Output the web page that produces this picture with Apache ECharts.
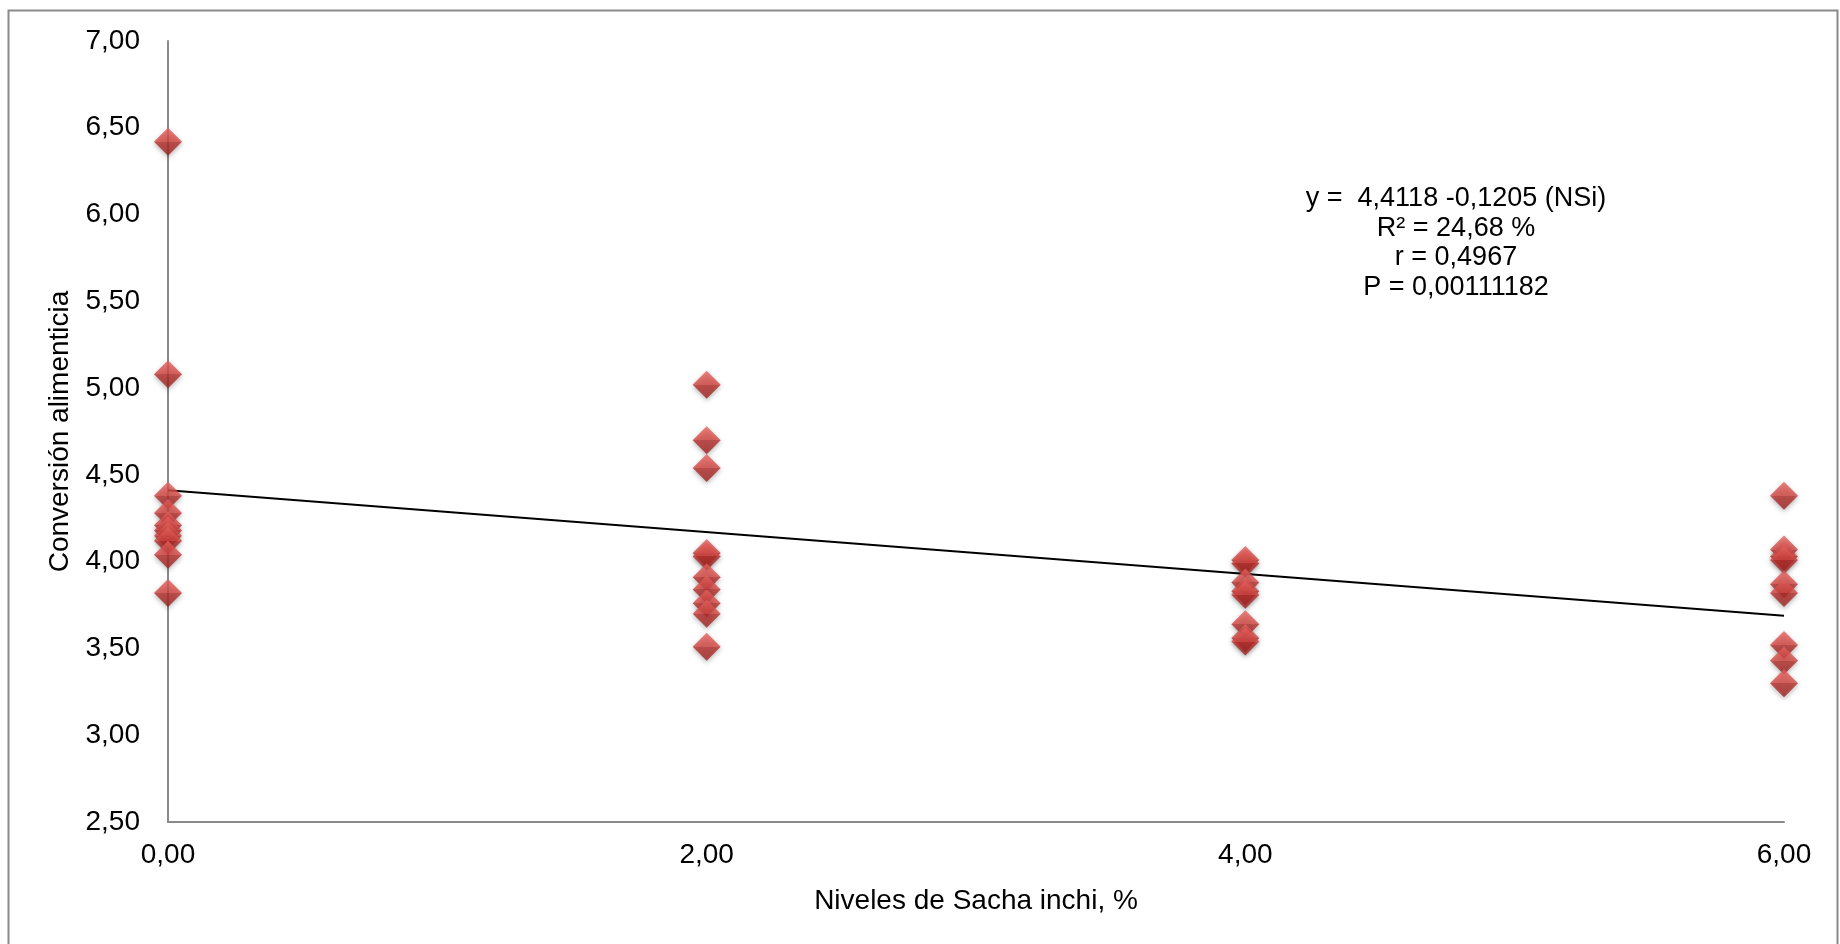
<!DOCTYPE html>
<html>
<head>
<meta charset="utf-8">
<script src="https://cdn.jsdelivr.net/npm/echarts@6/dist/echarts.min.js"></script>
<style>
  html, body { margin: 0; padding: 0; background: #fff; }
  #chart { width: 1840px; height: 944px; }
</style>
</head>
<body>
<div id="chart"></div>
<script>
// niveles de Sacha inchi (%) y conversion alimenticia observada
var niveles = [0, 2, 4, 6];
var conv_0 = [6.42, 5.08, 4.38, 4.28, 4.21, 4.18, 4.15, 4.12, 4.04, 3.82];
var conv_2 = [5.02, 4.70, 4.54, 4.05, 4.03, 3.91, 3.84, 3.76, 3.70, 3.51];
var conv_4 = [4.01, 3.99, 3.88, 3.83, 3.81, 3.64, 3.56, 3.54];
var conv_6 = [4.38, 4.07, 4.03, 4.01, 3.87, 3.82, 3.52, 3.43, 3.30];
// recta de regresion y = a + b * NSi
var intercepto = 4.4118;
var pendiente = -0.1205;
var ecuacion = [
    'y =  4,4118 -0,1205 (NSi)',
    'R² = 24,68 %',
    'r = 0,4967',
    'P = 0,00111182'
];

var puntos = [];
[conv_0, conv_2, conv_4, conv_6].forEach(function (grupo, i) {
    grupo.forEach(function (v) {
        puntos.push([niveles[i], v]);
    });
});
var recta = [
    [niveles[0], intercepto + pendiente * niveles[0]],
    [niveles[3], intercepto + pendiente * niveles[3]]
];

function coma(v) {
    return v.toFixed(2).replace('.', ',');
}

var font = '"Liberation Sans", Arial, sans-serif';
var chart = echarts.init(document.getElementById('chart'));
chart.setOption({
    backgroundColor: '#fff',
    animation: false,
    grid: { left: 168, top: 41, right: 56, bottom: 122 },
    graphic: [{
        type: 'rect',
        shape: { x: 8.5, y: 10.5, width: 1829, height: 960 },
        style: { fill: null, stroke: '#8a8a8a', lineWidth: 2 },
        silent: true
    }, {
        type: 'text',
        x: 1456,
        y: 184,
        style: {
            text: ecuacion.join('\n'),
            font: '27px ' + font,
            fill: '#000',
            align: 'center',
            verticalAlign: 'top',
            lineHeight: 29.5
        },
        silent: true
    }],
    xAxis: {
        type: 'value',
        min: 0,
        max: 6,
        interval: 2,
        name: 'Niveles de Sacha inchi, %',
        nameLocation: 'middle',
        nameGap: 65,
        nameTextStyle: { fontSize: 28, fontFamily: font, color: '#000' },
        axisLine: { lineStyle: { color: '#8a8a8a', width: 2 } },
        axisTick: { show: false },
        splitLine: { show: false },
        axisLabel: {
            margin: 19,
            fontSize: 28,
            fontFamily: font,
            color: '#000',
            formatter: coma
        }
    },
    yAxis: {
        type: 'value',
        min: 2.5,
        max: 7,
        interval: 0.5,
        name: 'Conversión alimenticia',
        nameLocation: 'middle',
        nameGap: 93,
        nameTextStyle: { fontSize: 28, fontFamily: font, color: '#000' },
        axisLine: { show: true, lineStyle: { color: '#8a8a8a', width: 2 } },
        axisTick: { show: false },
        splitLine: { show: false },
        axisLabel: {
            margin: 28,
            fontSize: 28,
            fontFamily: font,
            color: '#000',
            formatter: coma
        }
    },
    series: [{
        type: 'line',
        data: recta,
        symbol: 'none',
        lineStyle: { color: '#000', width: 2 },
        z: 2
    }, {
        type: 'scatter',
        data: puntos,
        symbol: 'diamond',
        symbolSize: [28, 28],
        itemStyle: {
            color: new echarts.graphic.LinearGradient(0, 0, 0, 1, [
                { offset: 0, color: '#e8625e' },
                { offset: 0.5, color: '#d44541' },
                { offset: 0.5, color: '#b8302d' },
                { offset: 1, color: '#9c2220' }
            ]),
            shadowBlur: 5,
            shadowColor: 'rgba(0,0,0,0.35)',
            shadowOffsetY: 2
        },
        z: 3
    }]
});
</script>
</body>
</html>
